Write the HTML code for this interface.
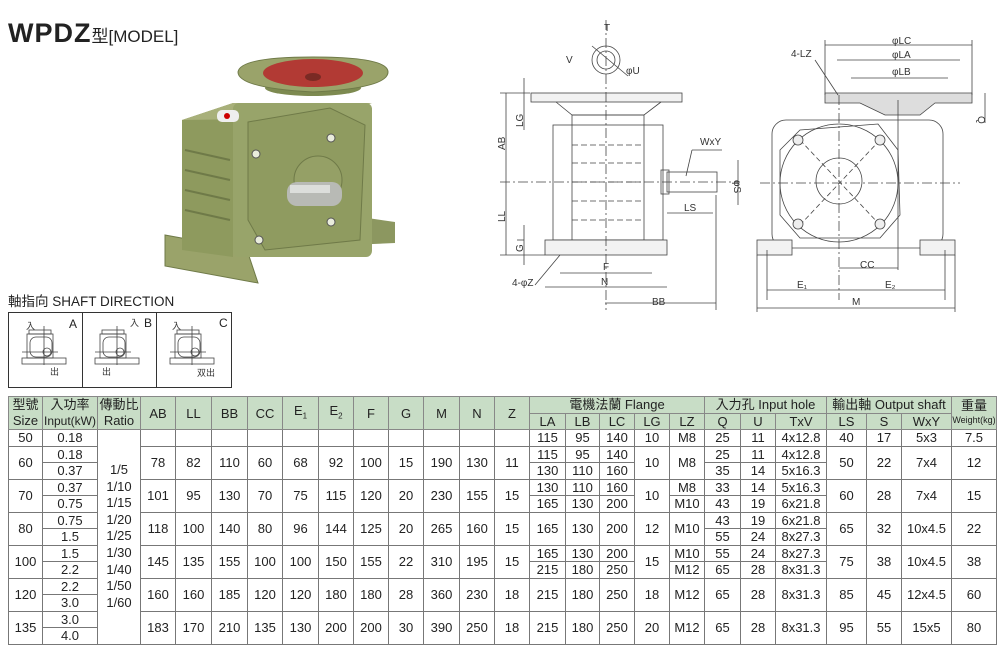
<!DOCTYPE html>
<html><head><meta charset="utf-8">
<style>
body{margin:0;background:#fff;width:1000px;height:649px;position:relative;overflow:hidden;font-family:"Liberation Sans","Noto Sans CJK TC",sans-serif;color:#222}
.t{position:absolute}
table{position:absolute;left:8px;top:396px;border-collapse:collapse;table-layout:fixed;font-size:13px}
td{border:1px solid #777;text-align:center;padding:0;height:15.5px;line-height:15px;white-space:nowrap;overflow:hidden}
.h td{background:#c8ddc6;border-color:#888}
td.nb{border-top:none;border-bottom:none}
</style></head><body>
<div class="t" style="left:8px;top:18px;font-size:27px;font-weight:bold;letter-spacing:1px">WPDZ<span style="font-size:17px;font-weight:normal;letter-spacing:0">型[MODEL]</span></div>

<svg class="t" style="left:0;top:0" width="1000" height="396" viewBox="0 0 1000 396">
<!-- product photo -->
<g>
<polygon points="165,235 247,250 258,283 165,266" fill="#9aa36a" stroke="#6f7a48"/>
<polygon points="347,215 395,222 395,243 350,245" fill="#8c9760"/>
<polygon points="182,120 233,103 233,257 182,250" fill="#8e9a5e"/>
<polygon points="182,120 233,103 372,103 330,118" fill="#a8b07a"/>
<rect x="233" y="103" width="139" height="154" rx="6" fill="#98a46a"/>
<path d="M248,122 L330,108 L365,125 L360,240 L265,250 L248,220 Z" fill="#8f9b60" stroke="#6f7a48"/>
<circle cx="318" cy="180" r="24" fill="#95a066" stroke="#6f7a48"/>
<ellipse cx="313" cy="88" rx="48" ry="8" fill="#7d8a50"/>
<path d="M238,72 Q240,57 313,57 Q388,57 388,72 Q388,88 313,92 Q238,88 238,72Z" fill="#9aa36a" stroke="#6f7a48"/>
<ellipse cx="313" cy="73" rx="50" ry="14" fill="#b23a34"/>
<ellipse cx="313" cy="77" rx="8" ry="4" fill="#7a2a24"/>
<rect x="287" y="182" width="55" height="24" rx="10" fill="#b8bab5"/>
<rect x="290" y="185" width="40" height="8" fill="#dcdedb"/>
<rect x="217" y="110" width="22" height="12" rx="5" fill="#eee"/><circle cx="227" cy="116" r="3" fill="#c00"/>
<g fill="#e9ecdc" stroke="#555"><circle cx="256" cy="154" r="4"/><circle cx="331" cy="138" r="4"/><circle cx="331" cy="222" r="4"/><circle cx="259" cy="240" r="4"/></g>
<g stroke="#6f7a48" stroke-width="2"><line x1="185" y1="150" x2="230" y2="160"/><line x1="185" y1="170" x2="230" y2="180"/><line x1="185" y1="190" x2="230" y2="200"/><line x1="185" y1="210" x2="230" y2="220"/></g>
</g>

<!-- shaft direction -->
<text x="8" y="306" font-size="13.5" fill="#222" font-family="Liberation Sans,Noto Sans CJK TC,sans-serif">軸指向  SHAFT DIRECTION</text>
<rect x="8.5" y="312.5" width="223" height="75" fill="none" stroke="#333"/>
<line x1="82.5" y1="312" x2="82.5" y2="388" stroke="#333"/>
<line x1="156.5" y1="312" x2="156.5" y2="388" stroke="#333"/>
<g font-size="12" font-family="Liberation Sans,sans-serif" fill="#222"><text x="69" y="328">A</text><text x="144" y="327">B</text><text x="219" y="327">C</text></g>
<g fill="none" stroke="#444" stroke-width="0.8">
<g id="ic"><rect x="29" y="330" width="22" height="4"/><rect x="27" y="334" width="26" height="24"/><rect x="30" y="337" width="22" height="20" rx="6"/><circle cx="47" cy="352" r="4"/><rect x="22" y="358" width="44" height="6"/><line x1="22" y1="352" x2="58" y2="352"/><line x1="44" y1="326" x2="44" y2="365"/></g>
<use href="#ic" x="73"/><use href="#ic" x="148"/>
</g>
<g font-size="9" fill="#333" font-family="Noto Sans CJK TC,sans-serif"><text x="26" y="329">入</text><text x="50" y="375">出</text><text x="130" y="326">入</text><text x="102" y="375">出</text><text x="172" y="329">入</text><text x="197" y="376">双出</text></g>

<!-- side view drawing -->
<g fill="none" stroke="#444" stroke-width="0.8" font-family="Liberation Sans,sans-serif">
<circle cx="606" cy="60" r="14"/><circle cx="606" cy="60" r="9"/>
<line x1="592" y1="46" x2="628" y2="76"/>
<rect x="531" y="93" width="151" height="9" fill="#f2f2f2"/>
<path d="M556,102 L572,115 L644,115 L661,102"/>
<rect x="572" y="115" width="72" height="125"/>
<rect x="553" y="125" width="110" height="115"/>
<rect x="545" y="240" width="122" height="15" fill="#f2f2f2"/>
<rect x="667" y="172" width="50" height="20"/>
<rect x="661" y="170" width="8" height="24"/>
<g stroke-dasharray="6,3"><line x1="572" y1="145" x2="644" y2="145"/><line x1="572" y1="163" x2="644" y2="163"/><line x1="572" y1="182" x2="644" y2="182"/><line x1="572" y1="201" x2="644" y2="201"/><line x1="572" y1="220" x2="644" y2="220"/></g>
<line x1="606" y1="20" x2="606" y2="310" stroke-dasharray="10,3,2,3"/>
<line x1="500" y1="182" x2="740" y2="182" stroke-dasharray="10,3,2,3"/>
<line x1="506" y1="93" x2="506" y2="255"/><line x1="500" y1="93" x2="530" y2="93"/><line x1="500" y1="255" x2="545" y2="255"/>
<line x1="524" y1="78" x2="524" y2="130"/><line x1="517" y1="240" x2="524" y2="240"/><line x1="524" y1="225" x2="524" y2="265"/>
<line x1="560" y1="273" x2="652" y2="273"/><line x1="545" y1="287" x2="667" y2="287"/>
<line x1="605" y1="303" x2="716" y2="303"/><line x1="716" y1="195" x2="716" y2="310"/>
<line x1="667" y1="213" x2="713" y2="213"/>
<line x1="738" y1="160" x2="738" y2="205"/>
<line x1="535" y1="285" x2="560" y2="255"/>
<line x1="692" y1="150" x2="686" y2="176"/><line x1="692" y1="150" x2="722" y2="150"/>
</g>
<g font-size="10" fill="#333" font-family="Liberation Sans,sans-serif">
<text x="604" y="31">T</text><text x="566" y="63">V</text><text x="626" y="74">φU</text>
<text x="505" y="150" transform="rotate(-90 505 150)">AB</text>
<text x="523" y="127" transform="rotate(-90 523 127)">LG</text>
<text x="505" y="222" transform="rotate(-90 505 222)">LL</text>
<text x="523" y="252" transform="rotate(-90 523 252)">G</text>
<text x="700" y="145">WxY</text><text x="684" y="211">LS</text>
<text x="734" y="180" transform="rotate(90 734 180)">φS</text>
<text x="603" y="270">F</text><text x="601" y="285">N</text><text x="652" y="305">BB</text><text x="512" y="286">4-φZ</text>
</g>

<!-- front view -->
<g fill="none" stroke="#444" stroke-width="0.8">
<rect x="772" y="120" width="171" height="128" rx="14"/>
<path d="M825,93 L972,93 L972,103 L935,103 L920,115 L885,115 L860,103 L825,103 Z" fill="#ddd"/>
<rect x="757" y="240" width="35" height="15" fill="#f2f2f2"/>
<rect x="920" y="240" width="35" height="15" fill="#f2f2f2"/>
<polygon points="800,130 878,124 898,150 900,215 880,238 800,238 780,215 780,150" transform="translate(0,0)"/>
<circle cx="839" cy="183" r="59"/>
<circle cx="839" cy="181" r="23"/>
<g stroke-dasharray="5,3"><line x1="800" y1="140" x2="880" y2="225"/><line x1="880" y1="140" x2="800" y2="225"/></g>
<g fill="#eee"><circle cx="798" cy="140" r="5"/><circle cx="880" cy="140" r="5"/><circle cx="798" cy="224" r="5"/><circle cx="880" cy="224" r="5"/></g>
<line x1="839" y1="95" x2="839" y2="300" stroke-dasharray="10,3,2,3"/>
<line x1="760" y1="183" x2="960" y2="183" stroke-dasharray="10,3,2,3"/>
<line x1="898" y1="100" x2="898" y2="270"/>
<line x1="825" y1="45" x2="972" y2="45"/><line x1="837" y1="60" x2="960" y2="60"/><line x1="851" y1="78" x2="948" y2="78"/>
<line x1="825" y1="40" x2="825" y2="95"/><line x1="972" y1="40" x2="972" y2="95"/>
<line x1="839" y1="268" x2="898" y2="268"/>
<line x1="767" y1="290" x2="945" y2="290"/><line x1="757" y1="308" x2="955" y2="308"/>
<line x1="767" y1="250" x2="767" y2="300"/><line x1="945" y1="250" x2="945" y2="300"/>
<line x1="757" y1="255" x2="757" y2="312"/><line x1="955" y1="255" x2="955" y2="312"/>
<line x1="985" y1="93" x2="985" y2="123"/>
<line x1="815" y1="60" x2="838" y2="95"/>
</g>
<g font-size="10" fill="#333" font-family="Liberation Sans,sans-serif">
<text x="892" y="44">φLC</text><text x="892" y="58">φLA</text><text x="892" y="75">φLB</text>
<text x="791" y="57">4-LZ</text><text x="988" y="106" transform="rotate(90 978 106)">Q</text>
<text x="860" y="268">CC</text><text x="797" y="288">E₁</text><text x="885" y="288">E₂</text><text x="852" y="305">M</text>
</g>
</svg>

<table>
<colgroup>
<col style="width:34px"><col style="width:55px"><col style="width:43px"><col style="width:35px"><col style="width:36px"><col style="width:36px"><col style="width:35px"><col style="width:36px"><col style="width:35px"><col style="width:35px"><col style="width:35px"><col style="width:36px"><col style="width:35px"><col style="width:35px"><col style="width:36px"><col style="width:34px"><col style="width:35px"><col style="width:35px"><col style="width:35px"><col style="width:36px"><col style="width:35px"><col style="width:51px"><col style="width:40px"><col style="width:35px"><col style="width:50px"><col style="width:45px">
</colgroup>
<tr class="h"><td rowspan="2" style="line-height:16px">型號<br>Size</td><td rowspan="2" style="line-height:16px">入功率<br><span style="font-size:12px">Input(kW)</span></td><td rowspan="2" style="line-height:16px">傳動比<br>Ratio</td><td rowspan="2">AB</td><td rowspan="2">LL</td><td rowspan="2">BB</td><td rowspan="2">CC</td><td rowspan="2">E<sub style="font-size:8px">1</sub></td><td rowspan="2">E<sub style="font-size:8px">2</sub></td><td rowspan="2">F</td><td rowspan="2">G</td><td rowspan="2">M</td><td rowspan="2">N</td><td rowspan="2">Z</td><td colspan="5">電機法蘭 Flange</td><td colspan="3">入力孔 Input hole</td><td colspan="3">輸出軸 Output shaft</td><td rowspan="2" style="line-height:13px">重量<br><span style="font-size:9px">Weight(kg)</span></td></tr>
<tr class="h"><td>LA</td><td>LB</td><td>LC</td><td>LG</td><td>LZ</td><td>Q</td><td>U</td><td>TxV</td><td>LS</td><td>S</td><td>WxY</td></tr>
<tr><td>50</td><td>0.18</td><td rowspan="13" style="line-height:16.6px;vertical-align:middle">1/5<br>1/10<br>1/15<br>1/20<br>1/25<br>1/30<br>1/40<br>1/50<br>1/60</td><td></td><td></td><td></td><td></td><td></td><td></td><td></td><td></td><td></td><td></td><td></td><td>115</td><td>95</td><td>140</td><td>10</td><td>M8</td><td>25</td><td>11</td><td>4x12.8</td><td>40</td><td>17</td><td>5x3</td><td>7.5</td></tr>
<tr><td rowspan="2">60</td><td>0.18</td><td rowspan="2">78</td><td rowspan="2">82</td><td rowspan="2">110</td><td rowspan="2">60</td><td rowspan="2">68</td><td rowspan="2">92</td><td rowspan="2">100</td><td rowspan="2">15</td><td rowspan="2">190</td><td rowspan="2">130</td><td rowspan="2">11</td><td>115</td><td>95</td><td>140</td><td rowspan="2">10</td><td rowspan="2">M8</td><td>25</td><td>11</td><td>4x12.8</td><td rowspan="2">50</td><td rowspan="2">22</td><td rowspan="2">7x4</td><td rowspan="2">12</td></tr>
<tr><td>0.37</td><td>130</td><td>110</td><td>160</td><td>35</td><td>14</td><td>5x16.3</td></tr>
<tr><td rowspan="2">70</td><td>0.37</td><td rowspan="2">101</td><td rowspan="2">95</td><td rowspan="2">130</td><td rowspan="2">70</td><td rowspan="2">75</td><td rowspan="2">115</td><td rowspan="2">120</td><td rowspan="2">20</td><td rowspan="2">230</td><td rowspan="2">155</td><td rowspan="2">15</td><td>130</td><td>110</td><td>160</td><td rowspan="2">10</td><td>M8</td><td>33</td><td>14</td><td>5x16.3</td><td rowspan="2">60</td><td rowspan="2">28</td><td rowspan="2">7x4</td><td rowspan="2">15</td></tr>
<tr><td>0.75</td><td>165</td><td>130</td><td>200</td><td>M10</td><td>43</td><td>19</td><td>6x21.8</td></tr>
<tr><td rowspan="2">80</td><td>0.75</td><td rowspan="2">118</td><td rowspan="2">100</td><td rowspan="2">140</td><td rowspan="2">80</td><td rowspan="2">96</td><td rowspan="2">144</td><td rowspan="2">125</td><td rowspan="2">20</td><td rowspan="2">265</td><td rowspan="2">160</td><td rowspan="2">15</td><td rowspan="2">165</td><td rowspan="2">130</td><td rowspan="2">200</td><td rowspan="2">12</td><td rowspan="2">M10</td><td>43</td><td>19</td><td>6x21.8</td><td rowspan="2">65</td><td rowspan="2">32</td><td rowspan="2">10x4.5</td><td rowspan="2">22</td></tr>
<tr><td>1.5</td><td>55</td><td>24</td><td>8x27.3</td></tr>
<tr><td rowspan="2">100</td><td>1.5</td><td rowspan="2">145</td><td rowspan="2">135</td><td rowspan="2">155</td><td rowspan="2">100</td><td rowspan="2">100</td><td rowspan="2">150</td><td rowspan="2">155</td><td rowspan="2">22</td><td rowspan="2">310</td><td rowspan="2">195</td><td rowspan="2">15</td><td>165</td><td>130</td><td>200</td><td rowspan="2">15</td><td>M10</td><td>55</td><td>24</td><td>8x27.3</td><td rowspan="2">75</td><td rowspan="2">38</td><td rowspan="2">10x4.5</td><td rowspan="2">38</td></tr>
<tr><td>2.2</td><td>215</td><td>180</td><td>250</td><td>M12</td><td>65</td><td>28</td><td>8x31.3</td></tr>
<tr><td rowspan="2">120</td><td>2.2</td><td rowspan="2">160</td><td rowspan="2">160</td><td rowspan="2">185</td><td rowspan="2">120</td><td rowspan="2">120</td><td rowspan="2">180</td><td rowspan="2">180</td><td rowspan="2">28</td><td rowspan="2">360</td><td rowspan="2">230</td><td rowspan="2">18</td><td rowspan="2">215</td><td rowspan="2">180</td><td rowspan="2">250</td><td rowspan="2">18</td><td rowspan="2">M12</td><td rowspan="2">65</td><td rowspan="2">28</td><td rowspan="2">8x31.3</td><td rowspan="2">85</td><td rowspan="2">45</td><td rowspan="2">12x4.5</td><td rowspan="2">60</td></tr>
<tr><td>3.0</td></tr>
<tr><td rowspan="2">135</td><td>3.0</td><td rowspan="2">183</td><td rowspan="2">170</td><td rowspan="2">210</td><td rowspan="2">135</td><td rowspan="2">130</td><td rowspan="2">200</td><td rowspan="2">200</td><td rowspan="2">30</td><td rowspan="2">390</td><td rowspan="2">250</td><td rowspan="2">18</td><td rowspan="2">215</td><td rowspan="2">180</td><td rowspan="2">250</td><td rowspan="2">20</td><td rowspan="2">M12</td><td rowspan="2">65</td><td rowspan="2">28</td><td rowspan="2">8x31.3</td><td rowspan="2">95</td><td rowspan="2">55</td><td rowspan="2">15x5</td><td rowspan="2">80</td></tr>
<tr><td>4.0</td></tr>
</table>
</body></html>
